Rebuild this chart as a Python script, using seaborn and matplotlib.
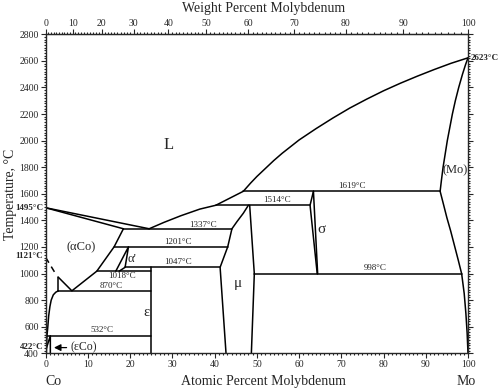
import numpy as np
import pandas as pd
import seaborn as sns
import matplotlib.pyplot as plt
from matplotlib.ticker import MultipleLocator

sns.set_style("ticks")
plt.rcParams['font.family'] = ['Liberation Serif', 'DejaVu Serif']

# phase boundaries, x = at.% Mo, t = temperature in C
liq_co_x = [0, 24.5]
liq_co_t = [1495, 1337]
sol_co_x = [0, 18.4]
sol_co_t = [1495, 1337]
liq_x = [24.5, 28, 32, 36.5, 40.3, 46.8, 48.5, 50, 52, 54, 56, 60, 64, 68, 72, 76, 80, 84, 88, 92, 96, 100]
liq_t = [1337, 1385, 1435, 1485, 1514, 1619, 1680, 1730, 1790, 1850, 1905, 2005, 2090, 2170, 2245, 2312, 2375, 2432, 2485, 2535, 2582, 2623]
mo_sol_x = [93.4, 93.7, 94.1, 94.6, 95.1, 95.7, 96.3, 97.0, 97.8, 98.7, 99.4, 100]
mo_sol_t = [1619, 1700, 1800, 1900, 2000, 2100, 2200, 2300, 2400, 2500, 2570, 2623]
mo_solv_x = [93.4, 94.2, 95.0, 95.9, 96.8, 97.7, 98.5, 99.1, 99.5, 99.8, 100]
mo_solv_t = [1619, 1520, 1420, 1320, 1210, 1100, 998, 850, 700, 550, 400]
sig_left_x = [63.4, 62.6, 64.3]
sig_left_t = [1619, 1514, 998]
sig_right_x = [63.4, 64.4]
sig_right_t = [1619, 998]
mu_left_x = [48.0, 46.8, 45.3, 44.1, 43.1, 41.3, 42.7]
mu_left_t = [1514, 1454, 1391, 1337, 1201, 1047, 400]
mu_right_x = [48.3, 49.4, 48.7]
mu_right_t = [1514, 998, 400]
aco_x = [18.4, 16.2, 12.1, 6.2, 3.0]
aco_t = [1337, 1201, 1018, 870, 972]
aco_v_x = [3.0, 3.0]
aco_v_t = [972, 870]
aco_solv_x = [3.0, 2.4, 1.8, 1.3, 1.0, 0.7, 0.5, 0.3, 0.15]
aco_solv_t = [870, 860, 840, 800, 752, 680, 600, 532, 400]
eco_x = [0, 1.1, 1.1]
eco_t = [422, 532, 400]
ap_x = [16.6, 19.6, 18.8, 17.4]
ap_t = [1018, 1201, 1047, 1018]
eps_x = [25, 25]
eps_t = [1047, 400]
curie_x = [0, 2.6]
curie_t = [1121, 985]

# invariant lines: temperature, x from, x to
inv_t = [1619, 1514, 1337, 1201, 1047, 1018, 998, 870, 532]
inv_x0 = [46.8, 40.3, 18.4, 16.2, 18.8, 12.1, 49.4, 3.0, 0.2]
inv_x1 = [93.4, 62.6, 44.1, 43.1, 41.3, 25.0, 98.5, 25.0, 25.0]
inv_lab_x = [72.5, 54.7, 37.3, 31.4, 31.4, 18.0, 78.0, 15.6, 13.3]
inv_lab_t = [1662, 1555, 1366, 1240, 1088, 980, 1040, 905, 574]

# phase labels
phase_lab = ['L', '(αCo)', "α'", 'ε', 'μ', 'σ', '(Mo)']
phase_x = [29.2, 8.5, 20.5, 23.9, 45.6, 65.4, 97.0]
phase_t = [1967, 1198, 1112, 707, 928, 1328, 1779]
phase_fs = [12, 9, 9, 10.5, 11, 11, 9]

side_lab = ['1495°C', '1121°C', '422°C']
side_t = [1495, 1130, 450]

segs = [(liq_co_x, liq_co_t), (sol_co_x, sol_co_t), (liq_x, liq_t),
        (mo_sol_x, mo_sol_t), (mo_solv_x, mo_solv_t), (sig_left_x, sig_left_t),
        (sig_right_x, sig_right_t), (mu_left_x, mu_left_t), (mu_right_x, mu_right_t),
        (aco_x, aco_t), (aco_v_x, aco_v_t), (aco_solv_x, aco_solv_t),
        (eco_x, eco_t), (ap_x, ap_t), (eps_x, eps_t)]
for t, a, b in zip(inv_t, inv_x0, inv_x1):
    segs.append(([a, b], [t, t]))

rows = []
for i, (xs, ts) in enumerate(segs):
    for x, t in zip(xs, ts):
        rows.append({'seg': i, 'x': x, 'T': t})
df = pd.DataFrame(rows)
df_curie = pd.DataFrame({'seg': 0, 'x': curie_x, 'T': curie_t})

fig, ax = plt.subplots(figsize=(5, 3.88), dpi=100)
fig.subplots_adjust(left=0.0914, right=0.936, bottom=0.0894, top=0.9116)

sns.lineplot(data=df, x='x', y='T', units='seg', estimator=None, sort=False,
             color='black', lw=1.1, legend=False, ax=ax)
sns.lineplot(data=df_curie, x='x', y='T', units='seg', estimator=None, sort=False,
             color='black', lw=1.1, linestyle=(0, (4, 3)), legend=False, ax=ax)

ax.set_xlim(0, 100)
ax.set_ylim(400, 2800)
ax.set_xlabel('')
ax.set_ylabel('')
ax.xaxis.set_major_locator(MultipleLocator(10))
ax.xaxis.set_minor_locator(MultipleLocator(1))
ax.yaxis.set_major_locator(MultipleLocator(200))
ax.yaxis.set_minor_locator(MultipleLocator(20))
ax.tick_params(which='both', direction='out', right=True, labelsize=7, width=0.8, pad=1.5)
ax.tick_params(which='major', length=3.5)
ax.tick_params(which='minor', length=1.5)
for s in ax.spines.values():
    s.set_linewidth(1.0)


def at2wt(a):
    a = np.asarray(a, dtype=float)
    return 100 * a * 95.95 / (a * 95.95 + (100 - a) * 58.933)


def wt2at(w):
    w = np.asarray(w, dtype=float)
    return 100 * (w / 95.95) / (w / 95.95 + (100 - w) / 58.933)


top = ax.secondary_xaxis('top', functions=(at2wt, wt2at))
top.set_xticks(np.arange(0, 101, 10))
top.xaxis.set_minor_locator(MultipleLocator(1))
top.tick_params(which='both', direction='out', labelsize=7, width=0.8, pad=1.0)
top.tick_params(which='major', length=3.5)
top.tick_params(which='minor', length=1.5)

for t, a, b, lx, lt in zip(inv_t, inv_x0, inv_x1, inv_lab_x, inv_lab_t):
    ax.text(lx, lt, f'{t}°C', fontsize=6.5, ha='center', va='center')

for lab, x, t, fs in zip(phase_lab, phase_x, phase_t, phase_fs):
    ax.text(x, t, lab, fontsize=fs, ha='center', va='center')

for lab, t in zip(side_lab, side_t):
    ax.text(-0.6, t, lab, fontsize=6.5, fontweight='bold', ha='right', va='center', clip_on=False)
ax.text(100.6, 2623, '2623°C', fontsize=6.5, fontweight='bold', ha='left', va='center', clip_on=False)

ax.annotate('', xy=(1.3, 443), xytext=(5.6, 443),
            arrowprops=dict(arrowstyle='-|>', color='black', lw=0.9, mutation_scale=10))
ax.text(5.8, 443, '(εCo)', fontsize=8.5, ha='left', va='center')

fig.text(0.527, 0.978, 'Weight Percent Molybdenum', fontsize=10, ha='center', va='center')
fig.text(0.527, 0.018, 'Atomic Percent Molybdenum', fontsize=10, ha='center', va='center')
fig.text(0.107, 0.018, 'Co', fontsize=10, ha='center', va='center')
fig.text(0.932, 0.018, 'Mo', fontsize=10, ha='center', va='center')
fig.text(0.021, 0.5, 'Temperature, °C', fontsize=10, rotation=90, ha='center', va='center')

fig.savefig('out.png', dpi=100)
